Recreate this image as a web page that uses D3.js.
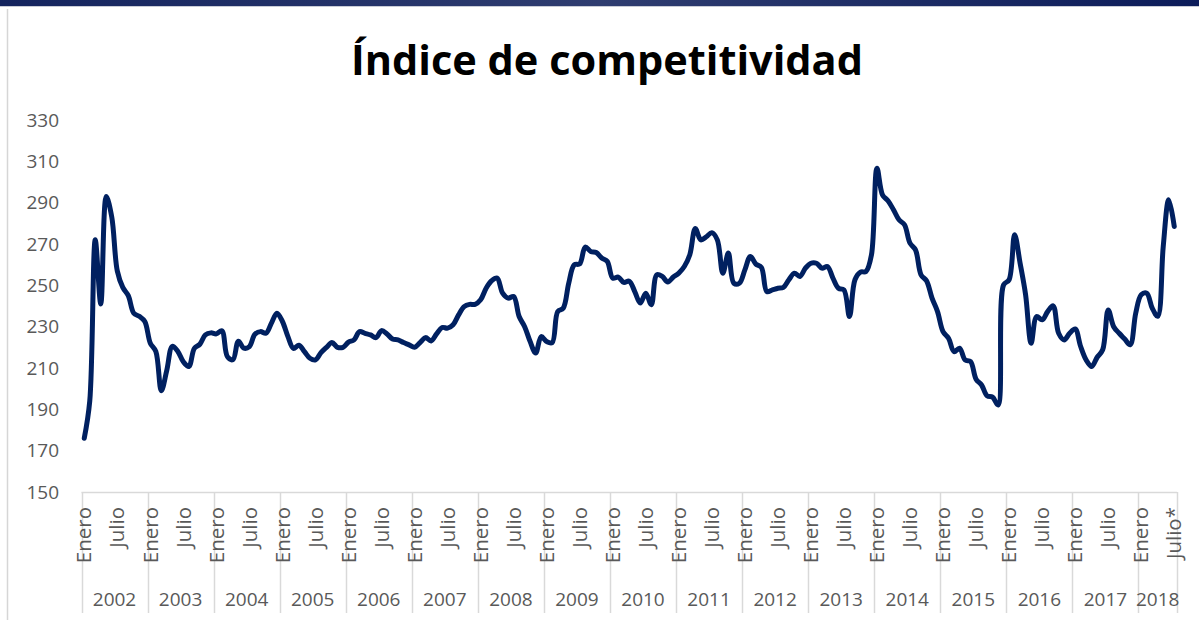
<!DOCTYPE html>
<html>
<head>
<meta charset="utf-8">
<script src="https://cdn.jsdelivr.net/npm/d3@7"></script>
<style>
  body { margin: 0; background: #fff; }
  svg { display: block; }
  .tick-label { font-family: "Open Sans", sans-serif; fill: #595959; }
</style>
</head>
<body>
<div id="chart"></div>
<script>
var width = 1199;
var height = 620;

// datos mensuales, enero 2002 - julio 2018
var years = ["2002","2003","2004","2005","2006","2007","2008","2009","2010","2011","2012","2013","2014","2015","2016","2017","2018"];
var yTicks = [150,170,190,210,230,250,270,290,310,330];
var indice = [
  176, 194, 272, 241, 293, 283, 257, 249, 245, 236.5, 235, 232.5,
  222, 218, 199, 209, 220.5, 218, 213, 210.7, 219.5, 221.5, 226, 227,
  226.5, 228, 215.5, 214, 223, 219.6, 220.4, 226.3, 227.6, 226.8, 231.7, 236.5,
  232.5, 225.2, 219.5, 221, 217.9, 214.7, 213.9, 217.4, 220, 222.3, 220, 220,
  222.5, 223.6, 227.6, 226.8, 226, 224.7, 228.1, 226.5, 224, 223.6, 222.3, 221.2,
  220, 222.3, 224.7, 223.1, 226.5, 229.6, 229.3, 230.9, 235.7, 239.7, 240.8, 240.8,
  243, 248.6, 252.2, 253.5, 246.2, 243.8, 244.6, 234.9, 230, 222.8, 217.2, 225.2,
  222.8, 222.3, 237.3, 238.9, 251, 259.9, 260.4, 268.5, 266.4, 265.9, 263.2, 261.6,
  253.5, 254, 251.4, 252, 247, 241.4, 246.2, 240.6, 255.1, 254.3, 251.6, 254,
  255.9, 259.1, 264.8, 277.5, 272, 273.5, 275.5, 272, 255.9, 265.6, 251, 251,
  257.5, 264, 260.3, 258.7, 247, 247.8, 248.6, 249, 252.7, 255.9, 254.3, 258.3,
  260.7, 260.7, 258.3, 259.1, 253.5, 248.6, 247.8, 234.9, 252.7, 256.4, 256.7, 264.8,
  306.7, 293.8, 290.9, 286.6, 281.7, 279.3, 270.4, 267.2, 255.1, 252.2, 243.8, 237.3,
  227.6, 224.4, 217.9, 219.6, 213.9, 213.1, 204.6, 201.8, 196.5, 195.9, 192.1, 250.2,
  252.7, 274.5, 260.7, 245.4, 222, 234.9, 233.3, 237.3, 240.1, 226.8, 223.6, 226.8,
  228.9, 220.4, 213.9, 210.7, 215.2, 218.8, 238.1, 230, 226.8, 224, 221.2, 236.5,
  245.4, 246.2, 239, 235, 268.8, 291.4, 278.5
];

// etiquetas del eje: Enero y Julio de cada año, la última con asterisco
var monthLabels = indice.map(function(d, i) {
  if (i == indice.length - 1) return "Julio*";
  if (i % 12 == 0) return "Enero";
  if (i % 12 == 6) return "Julio";
  return null;
});

var svg = d3.select("#chart").append("svg")
  .attr("width", width)
  .attr("height", height);

// franja superior y borde
var grad = svg.append("defs").append("linearGradient").attr("id", "topbar");
grad.append("stop").attr("offset", "0%").attr("stop-color", "#14245e");
grad.append("stop").attr("offset", "50%").attr("stop-color", "#2f3d70");
grad.append("stop").attr("offset", "100%").attr("stop-color", "#0c1c5a");

svg.append("rect").attr("x", 0).attr("y", 0).attr("width", width).attr("height", 6).attr("fill", "url(#topbar)");
svg.append("line").attr("x1", 0).attr("x2", width).attr("y1", 6.5).attr("y2", 6.5).attr("stroke", "#c9ccd6");
svg.append("line").attr("x1", 7.5).attr("x2", 7.5).attr("y1", 9).attr("y2", height).attr("stroke", "#d6d6d6").attr("stroke-width", 1.5);

svg.append("text")
  .attr("x", 607)
  .attr("y", 75)
  .attr("text-anchor", "middle")
  .style("font-family", "'Open Sans', sans-serif")
  .style("font-weight", 700)
  .style("font-size", "41.5px")
  .style("fill", "#000")
  .text("Índice de competitividad");

var x = d3.scaleBand()
  .domain(d3.range(indice.length))
  .range([81.5, 1177]);

var y = d3.scaleLinear()
  .domain([150, 330])
  .range([492, 120]);

function cx(i) { return x(i) + x.bandwidth() / 2; }

// eje y (sin línea, solo etiquetas)
svg.append("g").selectAll("text")
  .data(yTicks)
  .enter()
  .append("text")
  .attr("class", "tick-label")
  .attr("x", 59)
  .attr("y", function(d) { return y(d); })
  .attr("dy", "0.35em")
  .attr("text-anchor", "end")
  .style("font-size", "19px")
  .text(function(d) { return d; });

// eje x
var axis = svg.append("g");
axis.append("line")
  .attr("x1", 81.5).attr("x2", 1177)
  .attr("y1", 492.5).attr("y2", 492.5)
  .attr("stroke", "#d9d9d9").attr("stroke-width", 1.5);

var bounds = years.map(function(d, i) { return x(i * 12); }).concat([1177]);
axis.selectAll("line.sep")
  .data(bounds)
  .enter()
  .append("line")
  .attr("class", "sep")
  .attr("x1", function(d) { return Math.round(d) + 0.5; })
  .attr("x2", function(d) { return Math.round(d) + 0.5; })
  .attr("y1", 492)
  .attr("y2", 613)
  .attr("stroke", "#d9d9d9")
  .attr("stroke-width", 1.5);

axis.selectAll("text.month")
  .data(d3.range(indice.length).filter(function(i) { return monthLabels[i]; }))
  .enter()
  .append("text")
  .attr("class", "tick-label month")
  .attr("transform", function(i) { return "translate(" + cx(i) + ",507) rotate(-90)"; })
  .attr("dy", "0.35em")
  .attr("text-anchor", "end")
  .style("font-size", "20.5px")
  .text(function(i) { return monthLabels[i]; });

axis.selectAll("text.year")
  .data(years)
  .enter()
  .append("text")
  .attr("class", "tick-label year")
  .attr("x", function(d, i) { return (bounds[i] + bounds[i + 1]) / 2; })
  .attr("y", 606)
  .attr("text-anchor", "middle")
  .style("font-size", "19px")
  .text(function(d) { return d; });

// serie
var line = d3.line()
  .x(function(d, i) { return cx(i); })
  .y(function(d) { return y(d); })
  .curve(d3.curveCatmullRom.alpha(0.5));

svg.append("path")
  .datum(indice)
  .attr("d", line)
  .attr("fill", "none")
  .attr("stroke", "#002060")
  .attr("stroke-width", 5)
  .attr("stroke-linejoin", "round")
  .attr("stroke-linecap", "round");
</script>
</body>
</html>
